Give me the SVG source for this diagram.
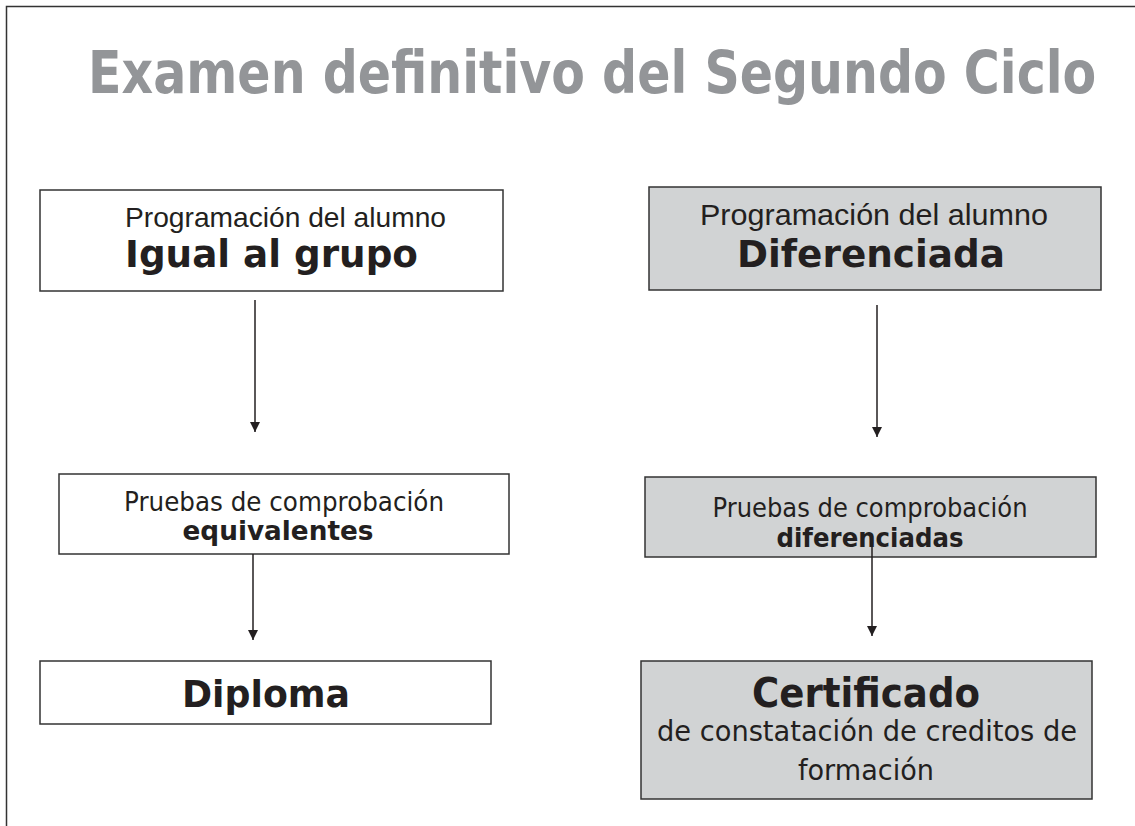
<svg xmlns="http://www.w3.org/2000/svg" width="1135" height="826" viewBox="0 0 1135 826">
<style>
.box{stroke:#333333;stroke-width:1.5}
.w{fill:#ffffff}
.g{fill:#d1d3d4}
.reg{font-family:"Liberation Sans",Arial,sans-serif;fill:#231f20}
.hum{font-family:"DejaVu Sans",Verdana,sans-serif;fill:#231f20}
.b{font-family:"DejaVu Sans",Verdana,sans-serif;font-weight:bold;fill:#231f20}
.conn line{stroke:#231f20;stroke-width:1.5}
</style>
<defs>
<marker id="ah" viewBox="0 0 10 10" refX="10" refY="5" markerWidth="10" markerHeight="10" markerUnits="userSpaceOnUse" orient="auto">
<path d="M0,0 L10,5 L0,10 Z" fill="#231f20"/>
</marker>
</defs>
<rect width="1135" height="826" fill="#ffffff"/>
<path d="M6.5,826 V6.5 H1135" fill="none" stroke="#333333" stroke-width="1.5"/>
<text id="title" transform="translate(88,93) scale(0.846,1)" x="0" y="0" font-family="DejaVu Sans, Verdana, sans-serif" font-weight="bold" font-size="58" fill="#939598">Examen definitivo del Segundo Ciclo</text>

<g id="n1">
<rect class="box w" x="40" y="190" width="463" height="101"/>
<text class="reg" x="125" y="227" font-size="28.5" textLength="321" lengthAdjust="spacingAndGlyphs">Programación del alumno</text>
<text class="b" x="125" y="267" font-size="37" textLength="293" lengthAdjust="spacingAndGlyphs">Igual al grupo</text>
</g>
<g id="n2">
<rect class="box g" x="649" y="187" width="452" height="103"/>
<text class="reg" x="700" y="225" font-size="30" textLength="348" lengthAdjust="spacingAndGlyphs">Programación del alumno</text>
<text class="b" x="737" y="267" font-size="37" textLength="268" lengthAdjust="spacingAndGlyphs">Diferenciada</text>
</g>
<g id="n3">
<rect class="box w" x="59" y="474" width="450" height="80"/>
<text class="hum" x="284" y="511" font-size="27" text-anchor="middle" textLength="320" lengthAdjust="spacingAndGlyphs">Pruebas de comprobación</text>
<text class="b" x="278" y="540" font-size="27" text-anchor="middle" textLength="191" lengthAdjust="spacingAndGlyphs">equivalentes</text>
</g>
<g id="n4">
<rect class="box g" x="645" y="477" width="451" height="80"/>
<text class="hum" x="870" y="517" font-size="27" text-anchor="middle" textLength="315" lengthAdjust="spacingAndGlyphs">Pruebas de comprobación</text>
<text class="b" x="870" y="547" font-size="27" text-anchor="middle" textLength="187" lengthAdjust="spacingAndGlyphs">diferenciadas</text>
</g>
<g id="n5">
<rect class="box w" x="40" y="661" width="451" height="63"/>
<text class="b" x="266" y="707" font-size="38" text-anchor="middle" textLength="168" lengthAdjust="spacingAndGlyphs">Diploma</text>
</g>
<g id="n6">
<rect class="box g" x="641" y="661" width="451" height="138"/>
<text class="b" x="866" y="707" font-size="40" text-anchor="middle" textLength="228" lengthAdjust="spacingAndGlyphs">Certificado</text>
<text class="hum" x="867" y="741" font-size="28" text-anchor="middle" textLength="420" lengthAdjust="spacingAndGlyphs">de constatación de creditos de</text>
<text class="hum" x="866" y="780" font-size="28" text-anchor="middle" textLength="136" lengthAdjust="spacingAndGlyphs">formación</text>
</g>
<g id="connectors" class="conn">
<line x1="255" y1="300" x2="255" y2="432" marker-end="url(#ah)"/>
<line x1="877" y1="305" x2="877" y2="437" marker-end="url(#ah)"/>
<line x1="253" y1="554" x2="253" y2="640" marker-end="url(#ah)"/>
<line x1="872" y1="542" x2="872" y2="636" marker-end="url(#ah)"/>
</g>
</svg>
